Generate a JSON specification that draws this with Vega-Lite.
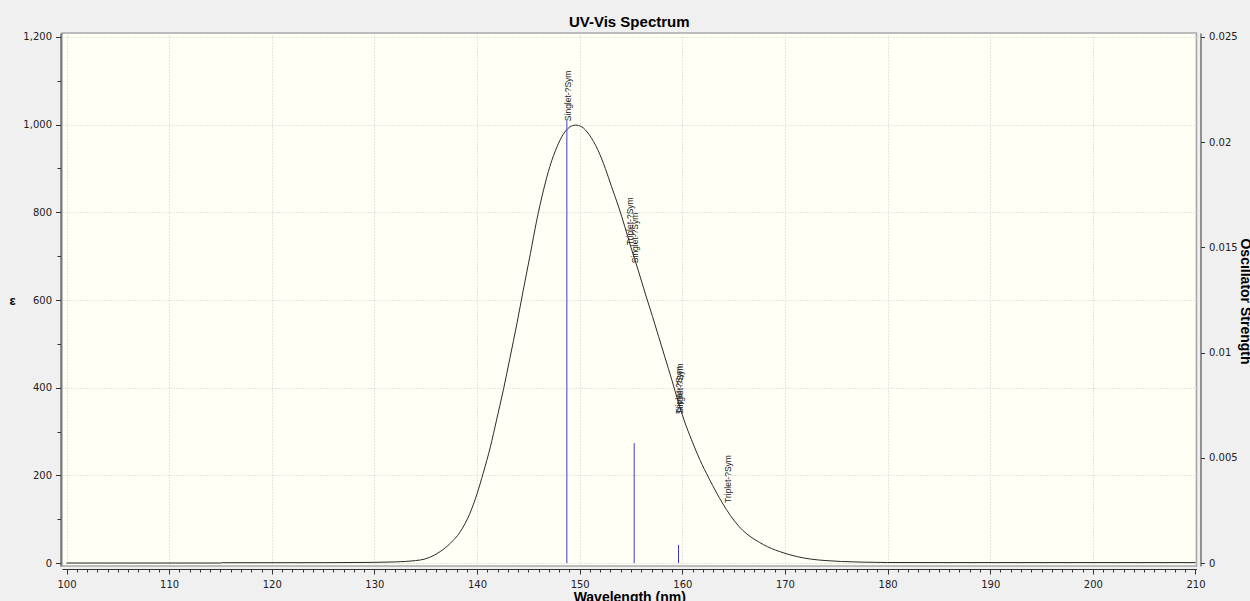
{
  "$schema": "https://vega.github.io/schema/vega-lite/v6.json",
  "width": 1134.5,
  "height": 533,
  "autosize": {"type": "none"},
  "padding": {"left": 62, "top": 33, "right": 53.5, "bottom": 35},
  "background": "#f0f0f0",
  "title": {"text": "UV-Vis Spectrum", "anchor": "middle", "frame": "group", "font": "Liberation Sans", "fontSize": 15, "fontWeight": "bold", "color": "#000000", "baseline": "alphabetic", "offset": 8.5, "dy": 19},
  "config": {
    "view": {"fill": "#fffff5", "stroke": "#a8a8a8", "strokeWidth": 1.5},
    "axis": {"domainColor": "#333333", "tickColor": "#333333", "labelFont": "DejaVu Sans", "labelFontSize": 10, "labelColor": "#222222", "titleFont": "Liberation Sans", "titleFontWeight": "bold", "titleColor": "#000000", "gridColor": "#cdcdcd", "gridDash": [1, 2], "labelOverlap": false, "labelFlush": false, "labelBound": false}
  },
  "datasets": {
    "curve": [
      {"wl": 100, "eps": 0}, {"wl": 115, "eps": 0}, {"wl": 115.2, "eps": 0.7}, {"wl": 125, "eps": 0.8}, {"wl": 130, "eps": 1.5}, {"wl": 132, "eps": 2.5}, {"wl": 133, "eps": 3.5}, {"wl": 134, "eps": 5.5}, {"wl": 134.5, "eps": 7}, {"wl": 135.4, "eps": 13}, {"wl": 136.4, "eps": 26}, {"wl": 137.4, "eps": 45}, {"wl": 138.35, "eps": 71}, {"wl": 139.3, "eps": 113}, {"wl": 140, "eps": 158}, {"wl": 140.6, "eps": 205}, {"wl": 141.3, "eps": 265}, {"wl": 141.9, "eps": 326}, {"wl": 142.6, "eps": 399}, {"wl": 143.2, "eps": 467}, {"wl": 143.9, "eps": 548}, {"wl": 144.5, "eps": 622}, {"wl": 145.2, "eps": 706}, {"wl": 145.8, "eps": 780}, {"wl": 146.5, "eps": 853}, {"wl": 147.1, "eps": 905}, {"wl": 147.8, "eps": 950}, {"wl": 148.4, "eps": 978}, {"wl": 149, "eps": 994}, {"wl": 149.6, "eps": 999}, {"wl": 150.2, "eps": 995}, {"wl": 150.9, "eps": 978}, {"wl": 151.8, "eps": 941}, {"wl": 152.5, "eps": 900}, {"wl": 153.1, "eps": 859}, {"wl": 153.8, "eps": 812}, {"wl": 154.4, "eps": 767}, {"wl": 155, "eps": 720}, {"wl": 155.7, "eps": 668}, {"wl": 156.4, "eps": 614}, {"wl": 157.1, "eps": 562}, {"wl": 157.7, "eps": 516}, {"wl": 158.3, "eps": 470}, {"wl": 159, "eps": 416}, {"wl": 159.6, "eps": 368}, {"wl": 160.2, "eps": 324}, {"wl": 160.9, "eps": 281}, {"wl": 161.7, "eps": 236}, {"wl": 162.6, "eps": 193}, {"wl": 163.3, "eps": 162}, {"wl": 163.9, "eps": 137}, {"wl": 164.7, "eps": 108}, {"wl": 165.5, "eps": 84}, {"wl": 166.3, "eps": 66}, {"wl": 167.1, "eps": 53}, {"wl": 167.9, "eps": 42}, {"wl": 168.7, "eps": 33}, {"wl": 169.5, "eps": 26}, {"wl": 170.3, "eps": 20}, {"wl": 171.2, "eps": 14.5}, {"wl": 172.5, "eps": 9}, {"wl": 174, "eps": 5.5}, {"wl": 175.5, "eps": 3.5}, {"wl": 177.6, "eps": 2}, {"wl": 180, "eps": 1.2}, {"wl": 185, "eps": 1}, {"wl": 210, "eps": 1}
    ],
    "transitions": [
      {"wl": 148.75, "state": "Singlet-?Sym", "f": 0.021, "eps_label": 1008},
      {"wl": 154.85, "state": "Triplet-?Sym", "f": 0, "eps_label": 725},
      {"wl": 155.31, "state": "Singlet-?Sym", "f": 0.0057, "eps_label": 684},
      {"wl": 159.6, "state": "Triplet-?Sym", "f": 0, "eps_label": 340},
      {"wl": 159.63, "state": "Singlet-?Sym", "f": 0.00086, "eps_label": 340},
      {"wl": 164.37, "state": "Triplet-?Sym", "f": 0, "eps_label": 137}
    ]
  },
  "layer": [
    {
      "layer": [
        {
          "data": {"name": "curve"},
          "mark": {"type": "line", "color": "#2b2b2b", "strokeWidth": 1, "interpolate": "monotone", "clip": true},
          "encoding": {
            "x": {"field": "wl", "type": "quantitative", "title": "Wavelength (nm)",
              "scale": {"domain": [99.56, 210.1], "nice": false, "zero": false},
              "axis": {"orient": "bottom", "offset": 3, "tickCount": 500, "format": "d",
                "values": [100,101,102,103,104,105,106,107,108,109,110,111,112,113,114,115,116,117,118,119,120,121,122,123,124,125,126,127,128,129,130,131,132,133,134,135,136,137,138,139,140,141,142,143,144,145,146,147,148,149,150,151,152,153,154,155,156,157,158,159,160,161,162,163,164,165,166,167,168,169,170,171,172,173,174,175,176,177,178,179,180,181,182,183,184,185,186,187,188,189,190,191,192,193,194,195,196,197,198,199,200,201,202,203,204,205,206,207,208,209,210],
                "labelExpr": "datum.value % 10 === 0 ? datum.label : ''",
                "labelOverlap": false, "labelFlush": false, "labelBound": false,
                "tickSize": {"condition": {"test": "datum.value % 10 === 0", "value": 5}, "value": 3},
                "labelPadding": 5,
                "grid": true,
                "gridOpacity": {"condition": {"test": "datum.value % 10 === 0", "value": 1}, "value": 0},
                "titleFontSize": 14, "titleY": 32, "titleBaseline": "alphabetic"}},
            "y": {"field": "eps", "type": "quantitative", "title": "ε",
              "scale": {"domain": [-6.8, 1209.1], "nice": false, "zero": false},
              "axis": {"orient": "left", "offset": 1.5, "tickCount": 100,
                "values": [0,100,200,300,400,500,600,700,800,900,1000,1100,1200],
                "format": ",.0f",
                "labelExpr": "datum.value % 200 === 0 ? datum.label : ''",
                "labelOverlap": false, "labelFlush": false, "labelBound": false,
                "tickSize": {"condition": {"test": "datum.value % 200 === 0", "value": 5}, "value": 3.5},
                "labelPadding": 4,
                "grid": true,
                "gridOpacity": {"condition": {"test": "datum.value % 200 === 0", "value": 1}, "value": 0},
                "titleAngle": 0, "titleX": -48.5, "titleY": 267, "titleAlign": "center", "titleBaseline": "middle", "titleFontSize": 13}}
          }
        },
        {
          "data": {"name": "transitions"},
          "mark": {"type": "text", "angle": 270, "align": "left", "baseline": "middle", "dy": 1, "font": "Liberation Sans", "fontSize": 8.5, "color": "#222222"},
          "encoding": {
            "x": {"field": "wl", "type": "quantitative", "title": "Wavelength (nm)"},
            "y": {"field": "eps_label", "type": "quantitative", "title": "ε"},
            "text": {"field": "state"}
          }
        }
      ]
    },
    {
      "data": {"name": "transitions"},
      "mark": {"type": "rule", "color": "#3a3ad0", "strokeWidth": 1},
      "encoding": {
        "x": {"field": "wl", "type": "quantitative", "title": "Wavelength (nm)"},
        "y": {"field": "f", "type": "quantitative", "title": "Oscillator Strength",
          "scale": {"domain": [-0.0001417, 0.02519], "nice": false, "zero": false},
          "axis": {"orient": "right", "offset": 4, "tickCount": 50,
            "values": [0, 0.005, 0.01, 0.015, 0.02, 0.025],
            "format": ".3~f", "tickSize": 4, "labelPadding": 4, "grid": false, "labelOverlap": false,
            "titleAngle": 90, "titleX": 43.5, "titleY": 268, "titleAlign": "center", "titleBaseline": "middle", "titleFontSize": 14}},
        "y2": {"datum": 0}
      }
    }
  ],
  "resolve": {"scale": {"y": "independent"}}
}
